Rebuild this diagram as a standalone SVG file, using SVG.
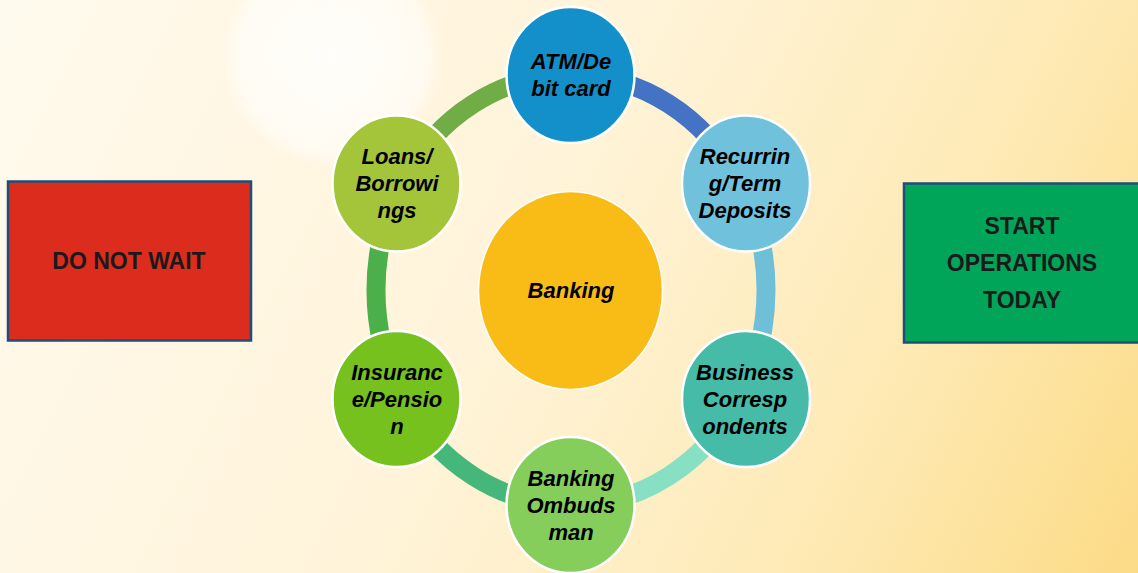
<svg xmlns="http://www.w3.org/2000/svg" width="1138" height="573" viewBox="0 0 1138 573">
  <defs>
    <linearGradient id="bg" x1="0" y1="0" x2="1138" y2="573" gradientUnits="userSpaceOnUse">
      <stop offset="0" stop-color="#FFFAEE"/>
      <stop offset="0.45" stop-color="#FFF4DA"/>
      <stop offset="0.75" stop-color="#FEEAB6"/>
      <stop offset="1" stop-color="#FCDB86"/>
    </linearGradient>
    <radialGradient id="glow" cx="332" cy="57" r="110" gradientUnits="userSpaceOnUse">
      <stop offset="0" stop-color="#FFFFFF" stop-opacity="0.85"/>
      <stop offset="0.85" stop-color="#FFFFFF" stop-opacity="0.55"/>
      <stop offset="1" stop-color="#FFFFFF" stop-opacity="0"/>
    </radialGradient>
    <style>
      .arc { fill: none; stroke-width: 19; }
      .node { stroke: #FFFFFF; stroke-width: 2.5; }
      .lbl { font-family: "Liberation Sans", Arial, sans-serif; font-weight: bold; font-style: italic; font-size: 22px; fill: #000000; text-anchor: middle; }
      .box { stroke: #1F4E79; stroke-width: 2.5; }
      .boxlbl { font-family: "Liberation Sans", Arial, sans-serif; font-weight: bold; font-size: 23px; fill: #1A1A1A; text-anchor: middle; }
    </style>
  </defs>

  <rect x="0" y="0" width="1138" height="573" fill="url(#bg)"/>
  <circle cx="332" cy="57" r="110" fill="url(#glow)"/>

  <g id="connectors">
    <path class="arc" stroke="#4472C4" d="M571,75 A195,215 0 0 1 739.9,182.5"/>
    <path class="arc" stroke="#70BFD8" d="M739.9,182.5 A195,215 0 0 1 739.9,397.5"/>
    <path class="arc" stroke="#88E0C4" d="M739.9,397.5 A195,215 0 0 1 571,505"/>
    <path class="arc" stroke="#46B77A" d="M571,505 A195,215 0 0 1 402.1,397.5"/>
    <path class="arc" stroke="#4BB04A" d="M402.1,397.5 A195,215 0 0 1 402.1,182.5"/>
    <path class="arc" stroke="#70AD47" d="M402.1,182.5 A195,215 0 0 1 571,75"/>
  </g>

  <g id="node-banking">
    <ellipse cx="570.5" cy="290.5" rx="92" ry="99" fill="#F9BC17" stroke="#FFFFFF" stroke-width="1.5"/>
    <text class="lbl" x="571" y="298">Banking</text>
  </g>

  <g id="node-atm">
    <ellipse class="node" cx="570.5" cy="75" rx="64" ry="68" fill="#1390C9"/>
    <text class="lbl" x="571" y="69">ATM/De</text>
    <text class="lbl" x="571" y="96">bit card</text>
  </g>

  <g id="node-recurring">
    <ellipse class="node" cx="746" cy="183.5" rx="64" ry="68" fill="#70C1DB"/>
    <text class="lbl" x="745" y="164">Recurrin</text>
    <text class="lbl" x="745" y="191">g/Term</text>
    <text class="lbl" x="745" y="218">Deposits</text>
  </g>

  <g id="node-business">
    <ellipse class="node" cx="746" cy="399" rx="64" ry="68" fill="#45BBA8"/>
    <text class="lbl" x="745" y="380">Business</text>
    <text class="lbl" x="745" y="407">Corresp</text>
    <text class="lbl" x="745" y="434">ondents</text>
  </g>

  <g id="node-ombudsman">
    <ellipse class="node" cx="570.5" cy="505" rx="64" ry="68" fill="#85CE5B"/>
    <text class="lbl" x="571" y="486">Banking</text>
    <text class="lbl" x="571" y="513">Ombuds</text>
    <text class="lbl" x="571" y="540">man</text>
  </g>

  <g id="node-insurance">
    <ellipse class="node" cx="396.5" cy="399" rx="64" ry="68" fill="#77C11E"/>
    <text class="lbl" x="397" y="380">Insuranc</text>
    <text class="lbl" x="397" y="407">e/Pensio</text>
    <text class="lbl" x="397" y="434">n</text>
  </g>

  <g id="node-loans">
    <ellipse class="node" cx="396.5" cy="183.5" rx="64" ry="68" fill="#A4C43A"/>
    <text class="lbl" x="397" y="164">Loans/</text>
    <text class="lbl" x="397" y="191">Borrowi</text>
    <text class="lbl" x="397" y="218">ngs</text>
  </g>

  <g id="node-do-not-wait">
    <rect class="box" x="8" y="181.5" width="243" height="159" fill="#DC2C1E"/>
    <text class="boxlbl" x="129" y="269">DO NOT WAIT</text>
  </g>

  <g id="node-start-operations">
    <rect class="box" x="904" y="183.5" width="240" height="159" fill="#00A55A"/>
    <text class="boxlbl" x="1022" y="234">START</text>
    <text class="boxlbl" x="1022" y="271">OPERATIONS</text>
    <text class="boxlbl" x="1022" y="308">TODAY</text>
  </g>
</svg>
